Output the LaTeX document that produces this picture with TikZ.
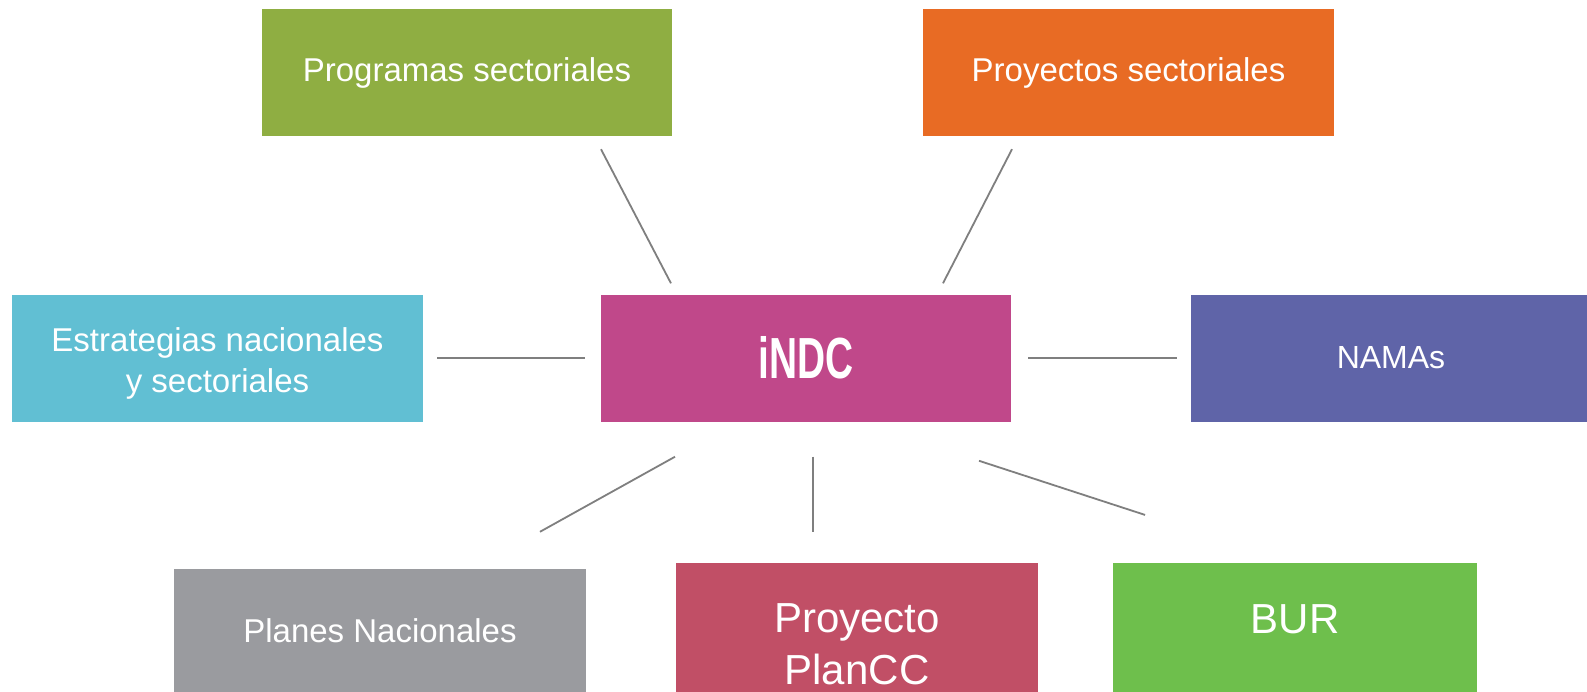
\documentclass[tikz,border=0pt]{standalone}
\usepackage{fontspec}
\setmainfont{Liberation Sans}
\usepackage{graphicx}
\definecolor{cprog}{HTML}{8FAE42}
\definecolor{cproy}{HTML}{E86B24}
\definecolor{cestr}{HTML}{61BFD3}
\definecolor{cindc}{HTML}{C0488A}
\definecolor{cnamas}{HTML}{5F64A8}
\definecolor{cplanes}{HTML}{9A9B9F}
\definecolor{cplancc}{HTML}{C14F66}
\definecolor{cbur}{HTML}{6EBF4C}
\definecolor{linegray}{HTML}{7F7F7F}
\begin{document}
\begin{tikzpicture}[x=1pt,y=-1pt,
  box/.style={rectangle, inner sep=0pt, text=white, align=center,
    font=\fontsize{33}{41}\selectfont},
  bigbox/.style={box, font=\fontsize{42}{52}\selectfont},
  conn/.style={draw=linegray, line width=1.8pt}]
\path[use as bounding box, clip] (0,0) rectangle (1587,691);
\fill[white] (0,0) rectangle (1587,691);

\node[box, fill=cprog, minimum width=410pt, minimum height=127pt] (prog) at (467,72.5) {Programas sectoriales};
\node[box, fill=cproy, minimum width=411pt, minimum height=127pt] (proy) at (1128.5,72.5) {Proyectos sectoriales};
\node[box, fill=cestr, minimum width=411pt, minimum height=127pt] (estr) at (217.5,358) {\rule{0pt}{35pt}Estrategias nacionales\\y sectoriales};
\node[box, fill=cindc, minimum width=410pt, minimum height=127pt] (indc) at (806,358) {\scalebox{0.67}[1]{\fontsize{58}{60}\selectfont\bfseries iNDC}};
\node[box, fill=cnamas, minimum width=400pt, minimum height=127pt, font=\fontsize{32}{40}\selectfont] (namas) at (1391,358) {NAMAs};
\node[box, fill=cplanes, minimum width=412pt, minimum height=124pt] (planes) at (380,631) {Planes Nacionales};
\node[bigbox, fill=cplancc, minimum width=362pt, minimum height=162pt] (plancc) at (857,644) {Proyecto\\PlanCC};
\node[bigbox, fill=cbur, minimum width=364pt, anchor=north, text height=70pt, text depth=70pt] (bur) at (1295,563) {BUR};

\draw[conn, shorten <=14.7pt, shorten >=12.4pt] ([xshift=127.2pt]prog.south) -- ([xshift=-129.3pt]indc.north);
\draw[conn, shorten <=14.6pt, shorten >=12.4pt] ([xshift=-109.8pt]proy.south) -- ([xshift=131.3pt]indc.north);
\draw[conn, shorten <=14pt, shorten >=16pt] (estr.east) -- (indc.west);
\draw[conn, shorten <=17pt, shorten >=14pt] (indc.east) -- (namas.west);
\draw[conn, shorten <=72.1pt, shorten >=76.2pt] ([xshift=-68pt]indc.south) -- ([xshift=93.4pt]planes.north);
\draw[conn, shorten <=35pt, shorten >=31pt] ([xshift=7pt]indc.south) -- ([xshift=-44pt]plancc.north);
\draw[conn, shorten <=126.1pt, shorten >=155.2pt] ([xshift=53.1pt]indc.south) -- ([xshift=-2.4pt]bur.north);
\end{tikzpicture}
\end{document}
